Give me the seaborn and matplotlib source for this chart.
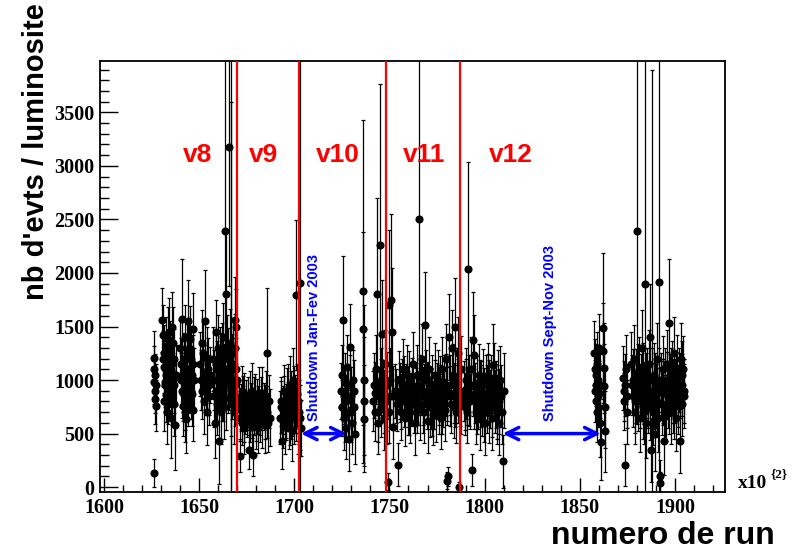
import seaborn as sns
import matplotlib.pyplot as plt
import pandas as pd

# numero de run (x100), nb d'evts / luminosite, erreur
run = [
    # 1625-1628
    1626.0, 1626.2, 1626.4, 1626.6, 1626.8, 1627.0, 1627.2, 1626.5, 1627.5,
    # 1630-1637
    1630.5, 1631.0, 1631.3, 1631.6, 1632.0, 1632.3, 1632.6, 1633.0, 1633.3, 1633.6,
    1634.0, 1634.3, 1634.6, 1635.0, 1635.3, 1635.6, 1636.0, 1636.3, 1636.6, 1637.0, 1637.3,
    # 1640-1647
    1640.0, 1640.3, 1640.6, 1641.0, 1641.3, 1641.6, 1642.0, 1642.3, 1642.6, 1643.0, 1643.3,
    1643.6, 1644.0, 1644.3, 1644.6, 1645.0, 1645.3, 1645.6, 1646.0, 1646.3, 1646.6, 1647.0,
    # 1650-1656
    1650.5, 1651.0, 1651.5, 1652.0, 1652.5, 1653.0, 1653.5, 1654.0, 1654.5, 1655.0, 1655.5,
    # 1657-1670
    1657.5, 1658.0, 1658.3, 1658.6, 1659.0, 1659.3, 1659.6, 1660.0, 1660.3, 1660.6, 1661.0,
    1661.3, 1661.6, 1662.0, 1662.3, 1662.6, 1663.0, 1663.5, 1663.8, 1664.0, 1664.3, 1665.5,
    1665.0, 1665.3, 1666.0, 1666.3, 1666.6, 1667.0, 1667.3, 1667.6, 1668.0, 1668.3, 1668.6,
    1669.0, 1669.3, 1669.6, 1669.0, 1666.8,
    # 1671-1687
    1671.0, 1671.3, 1671.6, 1672.0, 1672.3, 1672.6, 1673.0, 1673.3, 1673.6, 1674.0, 1675.0,
    1675.5, 1676.0, 1676.5, 1677.0, 1677.5, 1678.0, 1678.5, 1679.0, 1679.5, 1680.0, 1680.5,
    1681.0, 1681.5, 1682.0, 1682.5, 1683.0, 1685.7, 1684.0, 1684.5, 1685.0, 1685.5, 1686.0,
    # 1692-1704
    1692.5, 1693.0, 1693.5, 1694.0, 1694.5, 1695.0, 1695.5, 1696.0, 1696.5, 1697.0, 1697.5,
    1698.0, 1698.5, 1699.0, 1699.5, 1700.0, 1700.5, 1701.0, 1701.5, 1702.0, 1702.5, 1703.0,
    1703.3,
    # 1724-1737
    1724.5, 1725.0, 1725.3, 1725.6, 1726.0, 1726.3, 1726.6, 1727.0, 1727.3, 1727.6, 1728.0,
    1728.5, 1729.0, 1729.5, 1730.0, 1730.5, 1731.0, 1731.5, 1732.0, 1736.0, 1736.2, 1736.4,
    1736.6, 1736.8,
    # 1741-1752
    1741.5, 1742.0, 1742.5, 1743.0, 1743.5, 1744.0, 1744.5, 1745.0, 1745.3, 1745.6, 1746.0,
    1746.5, 1747.0, 1747.5, 1748.0, 1748.5, 1749.0, 1749.5, 1750.0, 1750.5, 1751.0, 1751.3,
    1751.6, 1752.0,
    # 1753-1788
    1753.0, 1754.0, 1754.5, 1755.0, 1755.5, 1756.0, 1756.5, 1757.0, 1757.5, 1758.0, 1758.5,
    1759.0, 1759.5, 1760.0, 1760.5, 1761.0, 1761.5, 1762.0, 1762.5, 1763.0, 1763.5, 1764.0,
    1764.5, 1765.0, 1765.5, 1766.0, 1766.5, 1767.0, 1767.5, 1768.0, 1768.5, 1769.0, 1769.5,
    1770.0, 1770.5, 1771.0, 1771.5, 1772.0, 1772.5, 1773.0, 1773.5, 1774.0, 1774.5, 1775.0,
    1775.5, 1776.0, 1776.5, 1777.0, 1777.5, 1778.0, 1778.5, 1779.0, 1779.5, 1780.0, 1780.5,
    1781.0, 1781.5, 1782.0, 1782.5, 1783.0, 1783.5, 1784.0, 1784.5, 1785.0, 1785.5, 1786.0,
    1786.5, 1787.0, 1787.5,
    # 1789-1810
    1789.0, 1789.5, 1790.0, 1790.5, 1791.0, 1791.5, 1792.0, 1792.5, 1793.0, 1793.5, 1794.0,
    1794.5, 1795.0, 1795.5, 1796.0, 1796.5, 1797.0, 1797.5, 1798.0, 1798.5, 1799.0, 1799.5,
    1800.0, 1800.5, 1801.0, 1801.5, 1802.0, 1802.5, 1803.0, 1803.5, 1804.0, 1804.5, 1805.0,
    1805.5, 1806.0, 1806.5, 1807.0, 1807.5, 1808.0, 1808.5, 1809.0, 1809.5, 1810.0,
    # 1857-1864
    1857.5, 1858.0, 1858.3, 1858.6, 1859.0, 1859.3, 1859.6, 1860.0, 1860.3, 1860.6, 1861.0,
    1862.0, 1862.3, 1862.6, 1862.9, 1863.2, 1863.5,
    # 1872-1905
    1872.5, 1873.0, 1873.5, 1874.0, 1874.5, 1875.0, 1877.0, 1877.5, 1878.0, 1878.5, 1879.0,
    1879.5, 1880.0, 1880.5, 1881.0, 1881.5, 1882.0, 1882.5, 1883.0, 1883.5, 1884.0, 1884.5,
    1885.0, 1885.5, 1886.0, 1886.5, 1887.0, 1887.5, 1888.0, 1888.5, 1889.0, 1889.5, 1890.0,
    1890.5, 1891.0, 1891.5, 1892.0, 1892.3, 1892.6, 1893.0, 1893.5, 1894.0, 1894.5, 1895.0,
    1895.5, 1896.0, 1896.5, 1897.0, 1897.5, 1898.0, 1898.5, 1899.0, 1899.5, 1900.0, 1900.5,
    1901.0, 1901.5, 1902.0, 1902.5, 1903.0, 1903.5, 1904.0, 1904.5, 1905.0,
    # runs in between (denser blobs)
    1630.8, 1631.8, 1632.8, 1633.8, 1634.8, 1635.8, 1636.8, 1637.6, 1640.8, 1641.8, 1642.8,
    1643.8, 1644.8, 1645.8, 1646.8, 1647.3, 1631.5, 1633.5, 1635.5, 1642.5, 1644.5,
    1651.3, 1652.8, 1654.3, 1655.3, 1657.8, 1658.8, 1659.8, 1660.8, 1661.8, 1662.8, 1663.3,
    1664.6, 1665.8, 1666.5, 1667.8, 1668.8, 1669.8,
    1671.8, 1672.8, 1673.8, 1674.5, 1676.2, 1676.8, 1677.8, 1678.8, 1679.8, 1680.8, 1681.8,
    1682.8, 1684.8, 1686.5, 1687.0,
    1692.8, 1693.8, 1694.8, 1695.8, 1696.8, 1697.8, 1698.8, 1699.8, 1700.8, 1701.8, 1702.8,
    1724.8, 1726.8, 1728.3, 1729.8, 1731.3,
    1742.3, 1743.8, 1745.8, 1747.3, 1748.8, 1750.3,
    1753.5, 1755.8, 1757.8, 1759.8, 1761.8, 1763.8, 1765.8, 1767.8, 1769.8, 1771.8, 1773.8,
    1775.8, 1777.8, 1779.8, 1781.8, 1783.8, 1785.8, 1787.8, 1756.3, 1760.3, 1764.3, 1768.3,
    1772.3, 1776.3, 1780.3, 1784.3,
    1789.8, 1791.8, 1793.8, 1795.8, 1797.8, 1799.8, 1801.8, 1803.8, 1805.8, 1807.8, 1790.3,
    1794.3, 1798.3, 1802.3, 1806.3,
    1858.8, 1859.8, 1860.8, 1857.8,
    1877.8, 1878.8, 1879.8, 1880.8, 1881.8, 1882.8, 1883.8, 1884.8, 1885.8, 1886.8, 1887.8,
    1888.8, 1889.8, 1890.8, 1891.8, 1893.8, 1894.8, 1895.8, 1896.8, 1897.8, 1898.8, 1899.8,
    1900.8, 1901.8, 1902.8, 1903.8, 1904.8, 1873.8, 1874.8,
]
nevts = [
    1210, 1100, 980, 900, 820, 1050, 760, 135, 950,
    1560, 1420, 1250, 1120, 980, 860, 1320, 1180, 700, 1050,
    1450, 920, 1250, 650, 1100, 860, 1350, 1000, 780, 1200, 580,
    1300, 1150, 1000, 1570, 880, 760, 1200, 1400, 1080, 950, 640,
    1250, 1550, 830, 1100, 1380, 980, 1200, 870, 1050, 1480, 720,
    1150, 1000, 900, 1250, 800, 1550, 950, 700, 1100, 850, 1050,
    1200, 1000, 600, 1450, 900, 1100, 780, 1300, 1050, 430, 950,
    1150, 700, 1250, 880, 1400, 1000, 2390, 1100, 830, 1800, 3180,
    1200, 950, 1350, 1050, 780, 1150, 900, 1250, 1000, 700, 1300,
    950, 1100, 1500, 1560, 1250,
    800, 650, 295, 720, 900, 600, 750, 850, 550, 700, 680,
    800, 350, 620, 750, 900, 560, 300, 700, 820, 650, 760,
    550, 880, 700, 800, 620, 1255, 750, 580, 850, 700, 600,
    650, 800, 430, 720, 900, 560, 680, 850, 750, 600, 950,
    700, 820, 520, 1000, 650, 780, 1790, 870, 600, 700, 1910,
    550,
    900, 1050, 750, 1560, 850, 650, 980, 550, 800, 1120, 700,
    450, 950, 1310, 850, 600, 1000, 750, 500, 1830, 1480, 1000,
    800, 640,
    800, 950, 700, 1100, 1800, 600, 850, 2260, 1000, 750, 1430,
    900, 650, 1150, 800, 950, 50, 1700, 700, 1000, 1750, 1450,
    850, 560,
    900, 780, 210, 1000, 850, 700, 950, 1100, 800, 650, 900,
    1050, 750, 880, 1000, 700, 820, 950, 1150, 780, 600, 900,
    1050, 830, 2500, 720, 950, 1200, 850, 700, 1510, 1000, 800,
    620, 900, 1100, 750, 850, 960, 680, 800, 1050, 700, 900,
    1000, 770, 880, 650, 1100, 830, 950, 720, 1200, 850, 60,
    100, 1400, 950, 780, 1300, 1050, 880, 1500, 700, 1000, 1250,
    0, 850, 1100,
    900, 750, 1000, 850, 700, 2040, 950, 800, 1100, 160, 1370,
    1230, 880, 700, 950, 800, 1050, 650, 900, 750, 1000, 850,
    600, 950, 780, 880, 1050, 700, 820, 950, 650, 1140, 1020,
    800, 900, 750, 950, 600, 1000, 850, 700, 240, 900,
    1250, 1100, 950, 800, 1150, 700, 1000, 880, 1300, 600, 420,
    1490, 1270, 1110, 940, 750, 520,
    1020, 900, 800, 207, 1100, 700, 1150, 950, 850, 1200, 700,
    1000, 2390, 800, 1100, 650, 950, 1300, 750, 1050, 880, 1900,
    600, 1000, 800, 1150, 1400, 350, 900, 700, 1050, 500, 850,
    1200, 650, 1920, 100, 40, 950, 780, 1100, 880, 430, 1000,
    720, 1150, 850, 1530, 950, 700, 1050, 800, 1250, 900, 650,
    1100, 850, 1000, 430, 1200, 780, 950, 1100, 850,
    # runs in between
    1200, 950, 1050, 850, 1000, 1150, 950, 1050, 900, 1100, 800,
    1000, 1300, 900, 1150, 1000, 800, 1380, 1500, 700, 950,
    1350, 1050, 1200, 950, 850, 1150, 1000, 1200, 900, 1050, 750,
    1300, 1000, 900, 1100, 850, 1000,
    750, 820, 650, 780, 700, 850, 680, 800, 600, 720, 650,
    880, 700, 800, 650,
    750, 620, 800, 700, 900, 650, 750, 850, 700, 800, 650,
    750, 700, 850, 700, 900,
    880, 700, 900, 800, 700, 850,
    850, 900, 950, 820, 900, 850, 950, 780, 900, 820, 920,
    850, 780, 950, 850, 750, 900, 800, 800, 750, 780, 880,
    760, 950, 900, 850,
    800, 850, 950, 780, 900, 700, 950, 750, 850, 800, 920,
    820, 850, 900, 700,
    1050, 850, 950, 900,
    1000, 800, 900, 1050, 850, 1000, 700, 950, 850, 750, 1000,
    850, 950, 800, 1000, 900, 750, 950, 800, 1000, 900, 750,
    950, 800, 950, 1050, 900, 950, 850,
]
err = [
    250, 220, 200, 210, 230, 190, 240, 130, 200,
    300, 280, 260, 240, 230, 250, 270, 260, 300, 240,
    320, 250, 300, 380, 260, 280, 330, 250, 300, 280, 420,
    260, 240, 250, 560, 260, 280, 240, 300, 230, 250, 320,
    270, 380, 260, 240, 310, 250, 270, 300, 260, 330, 290,
    300, 280, 260, 320, 300, 480, 280, 310, 290, 270, 260,
    300, 280, 330, 300, 270, 260, 290, 310, 280, 400, 270,
    290, 300, 280, 260, 320, 270, 1600, 280, 300, 600, 1300,
    290, 260, 310, 270, 300, 280, 260, 330, 280, 300, 320,
    270, 290, 350, 400, 2800,
    200, 220, 150, 200, 230, 210, 190, 220, 240, 200, 210,
    230, 180, 200, 220, 260, 230, 200, 210, 240, 220, 250,
    230, 240, 210, 230, 250, 600, 220, 260, 230, 240, 270,
    250, 230, 260, 220, 240, 250, 220, 260, 230, 240, 270,
    250, 260, 280, 300, 250, 270, 700, 280, 290, 300, 2200,
    260,
    260, 280, 250, 600, 260, 300, 270, 290, 250, 300, 260,
    300, 280, 400, 270, 290, 280, 260, 280, 1600, 900, 700,
    600, 500,
    280, 300, 270, 320, 900, 290, 270, 1500, 300, 280, 500,
    290, 300, 320, 280, 310, 80, 700, 290, 300, 800, 600,
    280, 300,
    250, 260, 200, 270, 240, 260, 250, 280, 240, 270, 250,
    280, 260, 250, 270, 290, 250, 260, 300, 270, 300, 260,
    280, 250, 1500, 280, 260, 320, 270, 290, 500, 280, 260,
    300, 270, 300, 280, 260, 270, 290, 260, 300, 280, 260,
    280, 270, 260, 290, 300, 270, 280, 290, 320, 270, 80,
    90, 400, 280, 270, 350, 290, 280, 450, 290, 300, 340,
    50, 280, 310,
    280, 260, 300, 270, 290, 1000, 280, 260, 300, 150, 450,
    380, 280, 300, 270, 260, 290, 300, 280, 270, 290, 260,
    300, 280, 270, 260, 300, 290, 270, 280, 300, 380, 330,
    290, 280, 300, 330, 300, 320, 290, 300, 250, 350,
    300, 280, 270, 290, 300, 280, 290, 300, 320, 320, 350,
    700, 450, 420, 400, 380, 380,
    300, 280, 270, 200, 320, 300, 300, 280, 290, 310, 300,
    290, 1800, 280, 300, 320, 290, 350, 300, 300, 290, 2500,
    330, 300, 290, 320, 500, 300, 3000, 310, 300, 350, 300,
    330, 320, 2400, 150, 100, 300, 290, 310, 300, 320, 300,
    290, 320, 300, 600, 290, 300, 310, 290, 340, 300, 310,
    320, 290, 300, 300, 330, 300, 290, 310, 300,
    # runs in between
    260, 250, 240, 260, 250, 270, 260, 280, 250, 260, 270,
    260, 280, 260, 270, 300, 280, 300, 320, 280, 260,
    300, 280, 300, 280, 290, 280, 270, 300, 280, 290, 300,
    310, 280, 2700, 290, 280, 300,
    210, 220, 230, 220, 210, 230, 220, 230, 240, 220, 230,
    240, 250, 250, 270,
    240, 250, 240, 260, 250, 260, 270, 280, 270, 290, 300,
    270, 280, 270, 280, 290,
    290, 280, 300, 290, 300, 290,
    250, 260, 270, 260, 270, 260, 280, 270, 270, 280, 270,
    270, 280, 290, 280, 290, 300, 300, 260, 260, 270, 270,
    280, 270, 280, 290,
    270, 280, 290, 280, 290, 280, 290, 280, 300, 300, 280,
    280, 290, 290, 300,
    290, 290, 300, 290,
    290, 290, 300, 290, 300, 310, 300, 300, 300, 310, 300,
    310, 300, 310, 300, 300, 300, 310, 300, 300, 300, 300,
    310, 300, 300, 310, 300, 290, 300,
]

versions = ['v8', 'v9', 'v10', 'v11', 'v12']
version_x = [1649, 1684, 1723, 1768, 1814]
version_cuts = [1670.0, 1702.5, 1748.0, 1787.1]
shutdowns = ['Shutdown Jan-Fev 2003', 'Shutdown Sept-Nov 2003']
shutdown_start = [1703.5, 1809.5]
shutdown_end = [1727.5, 1861.0]

df = pd.DataFrame({'run': run, 'nevts': nevts, 'err': err})

sns.set_style('ticks')
plt.rcParams.update({'text.color': 'black', 'axes.labelcolor': 'black',
                     'xtick.color': 'black', 'ytick.color': 'black',
                     'axes.edgecolor': 'black'})
fig = plt.figure(figsize=(7.94, 5.54), dpi=100)
ax = fig.add_axes([0.126, 0.112, 0.787, 0.778])

ax.errorbar(df['run'], df['nevts'], yerr=df['err'], fmt='none',
            ecolor='black', elinewidth=0.9, capsize=1.5, capthick=0.9, zorder=2)
sns.scatterplot(data=df, x='run', y='nevts', color='black', s=34,
                linewidth=0, ax=ax, zorder=3)

for xc in version_cuts:
    ax.axvline(xc, color='red', lw=1.6, zorder=4)

for name, xv in zip(versions, version_x):
    ax.text(xv, 3100, name, color='red', fontsize=19, fontweight='bold',
            family='Liberation Sans', ha='center', va='center')

for name, x0, x1 in zip(shutdowns, shutdown_start, shutdown_end):
    ax.annotate('', xy=(x0, 500), xytext=(x1, 500),
                arrowprops=dict(arrowstyle='<->', color='blue', lw=2.5,
                                mutation_scale=22, shrinkA=0, shrinkB=0))
    tx = x0 + 7 if x1 - x0 < 30 else x0 + 25
    ax.text(tx, 620, name, color='blue', fontsize=10.5, fontweight='bold',
            family='Liberation Sans', rotation=90, ha='center', va='bottom')

ax.set_xlim(1597.9, 1926.3)
ax.set_ylim(-45, 3980)
ax.set_xticks([1600, 1650, 1700, 1750, 1800, 1850, 1900])
ax.set_xticks(range(1600, 1930, 10), minor=True)
ax.set_yticks(range(0, 4000, 500))
ax.set_yticks(range(0, 4000, 100), minor=True)
ax.set_xlabel('')
ax.set_ylabel('')
ax.tick_params(axis='both', which='both', direction='in', top=False, right=False,
               colors='black')
ax.tick_params(axis='y', which='major', length=13, width=1, pad=4)
ax.tick_params(axis='y', which='minor', length=6.5, width=1)
ax.tick_params(axis='x', which='major', length=10, width=1, pad=4.5)
ax.tick_params(axis='x', which='minor', length=5, width=1)
for lab in ax.get_xticklabels() + ax.get_yticklabels():
    lab.set_family('Liberation Serif')
    lab.set_fontweight('bold')
    lab.set_fontsize(14.5)
for sp in ax.spines.values():
    sp.set_linewidth(1.3)
    sp.set_color('black')

fig.text(0.045, 0.995, "nb d'evts / luminosite", rotation=90, ha='center', va='top',
         fontsize=21, fontweight='bold', family='Liberation Sans', color='black')
fig.text(0.976, 0.006, 'numero de run', ha='right', va='bottom',
         fontsize=23, fontweight='bold', family='Liberation Sans', color='black')
fig.text(0.930, 0.112, 'x10', ha='left', va='bottom', fontsize=14,
         fontweight='bold', family='Liberation Serif', color='black')
fig.text(0.970, 0.134, '{2}', ha='left', va='bottom', fontsize=9.5,
         fontweight='bold', family='Liberation Serif', color='black')

fig.savefig('out.png', dpi=100, facecolor='white')
